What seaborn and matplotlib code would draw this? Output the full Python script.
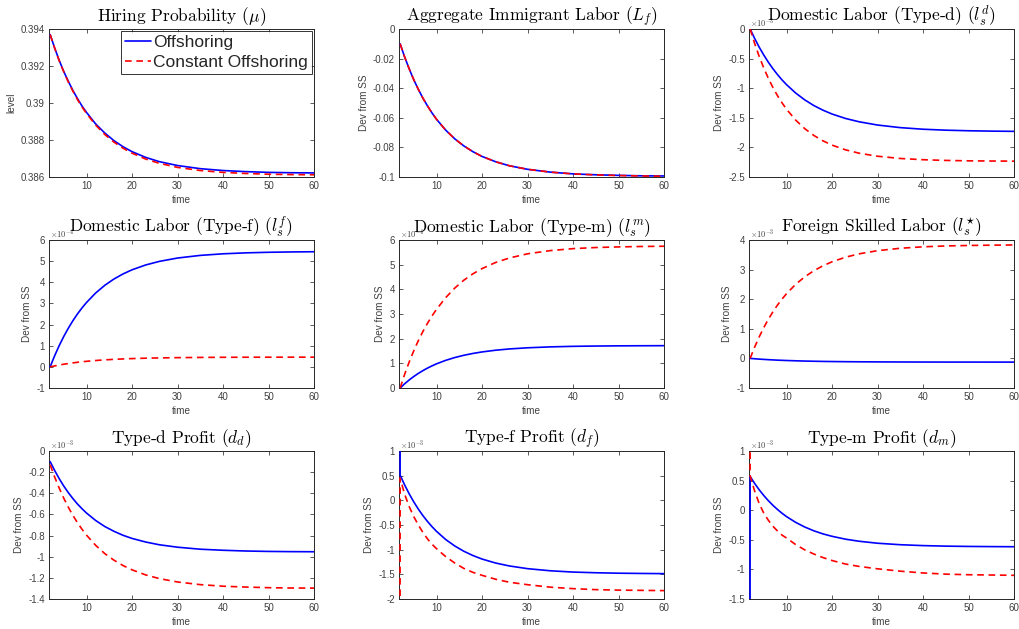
import numpy as np
import pandas as pd
import matplotlib
matplotlib.use("Agg")
import matplotlib.pyplot as plt
import seaborn as sns
from matplotlib.ticker import FuncFormatter

# ---------------- data ----------------
TIME = [2, 3, 4, 5, 6, 7, 8, 9, 10, 12, 14, 16, 18, 20, 23, 26, 30, 35, 40, 45, 50, 55, 60]
XTICKS = [10, 20, 30, 40, 50, 60]
SERIES_NAMES = ["Offshoring", "Constant Offshoring"]

# Hiring probability (level)
MU_OFF = [0.39370, 0.39297, 0.39230, 0.39170, 0.39117, 0.39068, 0.39024, 0.38984, 0.38949, 0.38887,
          0.38838, 0.38797, 0.38764, 0.38737, 0.38706, 0.38683, 0.38662, 0.38645, 0.38635, 0.38629,
          0.38625, 0.38623, 0.38622]
MU_CON = [0.39370, 0.39296, 0.39228, 0.39168, 0.39113, 0.39064, 0.39019, 0.38979, 0.38943, 0.38881,
          0.38830, 0.38789, 0.38756, 0.38729, 0.38697, 0.38674, 0.38652, 0.38635, 0.38625, 0.38619,
          0.38615, 0.38613, 0.38612]
# Aggregate immigrant labor (dev from SS)
LF_OFF = [-0.0100, -0.0190, -0.0270, -0.0343, -0.0408, -0.0467, -0.0519, -0.0567, -0.0610, -0.0683,
          -0.0742, -0.0790, -0.0829, -0.0861, -0.0897, -0.0924, -0.0948, -0.0967, -0.0979, -0.0985,
          -0.0989, -0.0992, -0.0993]
LF_CON = [-0.0100, -0.0190, -0.0270, -0.0343, -0.0408, -0.0467, -0.0519, -0.0567, -0.0610, -0.0683,
          -0.0742, -0.0790, -0.0829, -0.0861, -0.0897, -0.0924, -0.0948, -0.0967, -0.0979, -0.0986,
          -0.0990, -0.0993, -0.0995]
# Domestic labor type-d (x1e-3)
LD_OFF = [0, -0.161, -0.308, -0.440, -0.561, -0.670, -0.769, -0.859, -0.940, -1.081, -1.197, -1.293,
          -1.371, -1.436, -1.512, -1.568, -1.622, -1.666, -1.693, -1.709, -1.719, -1.725, -1.729]
LD_CON = [0, -0.246, -0.465, -0.659, -0.833, -0.987, -1.124, -1.246, -1.355, -1.538, -1.683, -1.798,
          -1.889, -1.961, -2.042, -2.099, -2.149, -2.187, -2.208, -2.220, -2.227, -2.230, -2.232]
# Domestic labor type-f (x1e-4)
LSF_OFF = [0, 0.530, 1.008, 1.440, 1.830, 2.182, 2.500, 2.787, 3.046, 3.492, 3.855, 4.151, 4.393,
           4.590, 4.819, 4.988, 5.147, 5.272, 5.347, 5.392, 5.419, 5.435, 5.445]
LSF_CON = [0, 0.046, 0.087, 0.125, 0.158, 0.188, 0.216, 0.240, 0.262, 0.300, 0.330, 0.355, 0.375,
           0.391, 0.410, 0.423, 0.436, 0.446, 0.452, 0.455, 0.457, 0.458, 0.459]
# Domestic labor type-m (x1e-4)
LSM_OFF = [0, 0.172, 0.327, 0.466, 0.592, 0.704, 0.806, 0.897, 0.980, 1.120, 1.234, 1.326, 1.401,
           1.462, 1.532, 1.583, 1.630, 1.667, 1.689, 1.701, 1.709, 1.713, 1.716]
LSM_CON = [0, 0.560, 1.060, 1.510, 1.920, 2.290, 2.620, 2.920, 3.190, 3.660, 4.050, 4.370, 4.630,
           4.840, 5.090, 5.270, 5.440, 5.570, 5.650, 5.695, 5.720, 5.737, 5.747]
# Foreign skilled labor (x1e-3)
LST_OFF = [0, -0.0125, -0.024, -0.034, -0.043, -0.051, -0.059, -0.065, -0.071, -0.081, -0.090, -0.096,
           -0.102, -0.106, -0.111, -0.115, -0.118, -0.121, -0.123, -0.124, -0.124, -0.125, -0.125]
LST_CON = [0, 0.384, 0.730, 1.041, 1.321, 1.572, 1.799, 2.003, 2.187, 2.501, 2.756, 2.961, 3.128,
           3.264, 3.420, 3.534, 3.639, 3.721, 3.770, 3.799, 3.815, 3.825, 3.832]
# Type-d profit (x1e-3)
DD_OFF = [-0.100, -0.185, -0.262, -0.332, -0.394, -0.450, -0.501, -0.546, -0.587, -0.657, -0.714,
          -0.759, -0.797, -0.827, -0.861, -0.887, -0.910, -0.929, -0.939, -0.946, -0.950, -0.952, -0.953]
DD_CON = [-0.130, -0.247, -0.352, -0.447, -0.532, -0.609, -0.678, -0.740, -0.796, -0.892, -0.970,
          -1.032, -1.083, -1.124, -1.172, -1.207, -1.239, -1.264, -1.279, -1.287, -1.293, -1.296, -1.297]
# Type-f profit (x1e-3), with the off-chart value of the period before
PRE_TIME = 1
DF_OFF_PRE, DF_CON_PRE = 100.0, -150.0
DF_OFF = [0.510, 0.310, 0.130, -0.032, -0.178, -0.309, -0.427, -0.533, -0.629, -0.793, -0.925,
          -1.032, -1.119, -1.190, -1.271, -1.330, -1.385, -1.428, -1.454, -1.468, -1.477, -1.482, -1.486]
DF_CON = [0.45, 0.12, -0.13, -0.33, -0.50, -0.65, -0.78, -0.89, -0.98, -1.14, -1.27, -1.38, -1.46,
          -1.52, -1.60, -1.66, -1.71, -1.76, -1.79, -1.81, -1.82, -1.825, -1.83]
# Type-m profit (x1e-3)
DM_OFF_PRE, DM_CON_PRE = -150.0, 100.0
DM_OFF = [0.570, 0.451, 0.344, 0.248, 0.161, 0.083, 0.013, -0.051, -0.108, -0.205, -0.284, -0.348,
          -0.400, -0.441, -0.490, -0.525, -0.558, -0.583, -0.598, -0.607, -0.612, -0.615, -0.617]
DM_CON = [0.58, 0.32, 0.11, -0.05, -0.17, -0.27, -0.35, -0.42, -0.47, -0.58, -0.67, -0.74, -0.80,
          -0.85, -0.91, -0.95, -0.99, -1.03, -1.06, -1.08, -1.09, -1.095, -1.10]

TITLES = [r"Hiring Probability ($\mu$)", r"Aggregate Immigrant Labor ($L_f$)",
          r"Domestic Labor (Type-d) ($l_s^d$)", r"Domestic Labor (Type-f) ($l_s^f$)",
          r"Domestic Labor (Type-m) ($l_s^m$)", r"Foreign Skilled Labor ($l_s^{\star}$)",
          r"Type-d Profit ($d_d$)", r"Type-f Profit ($d_f$)", r"Type-m Profit ($d_m$)"]
YLABELS = ["level"] + ["Dev from SS"] * 8
SCALES = [1, 1, 1e-3, 1e-4, 1e-4, 1e-3, 1e-3, 1e-3, 1e-3]
SCALE_TEXT = [None, None, "-3", "-4", "-4", "-3", "-3", "-3", "-3"]
YTICKS = [[0.386, 0.388, 0.39, 0.392, 0.394],
          [-0.1, -0.08, -0.06, -0.04, -0.02, 0],
          [-2.5, -2, -1.5, -1, -0.5, 0],
          [-1, 0, 1, 2, 3, 4, 5, 6],
          [0, 1, 2, 3, 4, 5, 6],
          [-1, 0, 1, 2, 3, 4],
          [-1.4, -1.2, -1, -0.8, -0.6, -0.4, -0.2, 0],
          [-2, -1.5, -1, -0.5, 0, 0.5, 1],
          [-1.5, -1, -0.5, 0, 0.5, 1]]

# ---------------- styling ----------------
sns.set_theme(style="white")
plt.rcParams["font.family"] = ["Liberation Sans", "DejaVu Sans"]
plt.rcParams["mathtext.fontset"] = "cm"
GREY = "#404040"
BLUE = "#0000ff"
RED = "#ff0000"

fig = plt.figure(figsize=(10.19, 6.29), dpi=100)
FW, FH = 1019, 629
LEFTS = [49, 399, 749]
TOPS = [29, 240, 451]
AW, AH = 265, 148

off_series = [MU_OFF, LF_OFF, LD_OFF, LSF_OFF, LSM_OFF, LST_OFF, DD_OFF,
              [DF_OFF_PRE] + DF_OFF, [DM_OFF_PRE] + DM_OFF]
con_series = [MU_CON, LF_CON, LD_CON, LSF_CON, LSM_CON, LST_CON, DD_CON,
              [DF_CON_PRE] + DF_CON, [DM_CON_PRE] + DM_CON]

for i in range(9):
    r, c = divmod(i, 3)
    ax = fig.add_axes([LEFTS[c] / FW, 1 - (TOPS[r] + AH) / FH, AW / FW, AH / FH])
    scale = SCALES[i]
    off = np.array(off_series[i], dtype=float)
    con = np.array(con_series[i], dtype=float)
    t = np.array(TIME if len(off) == len(TIME) else [PRE_TIME] + TIME, dtype=float)
    df = pd.DataFrame({"time": np.concatenate([t, t]),
                       "value": np.concatenate([off, con]) * scale,
                       "series": [SERIES_NAMES[0]] * len(t) + [SERIES_NAMES[1]] * len(t)})
    sns.lineplot(data=df, x="time", y="value", hue="series", style="series",
                 palette={SERIES_NAMES[0]: BLUE, SERIES_NAMES[1]: RED},
                 dashes={SERIES_NAMES[0]: "", SERIES_NAMES[1]: (4, 2.8)},
                 linewidth=1.2, ax=ax, legend=(i == 0), sort=True)
    for ln in ax.lines:
        ln.set_zorder(3)
    ax.set_xlim(1.75, 60)
    yt = np.array(YTICKS[i]) * scale
    ax.set_ylim(yt[0], yt[-1])
    ax.set_yticks(yt)
    ax.set_xticks(XTICKS)
    ax.yaxis.set_major_formatter(FuncFormatter(lambda v, p, s=scale: f"{round(v / s, 6) + 0.0:g}"))
    ax.tick_params(direction="in", length=3, width=0.6, colors=GREY, labelsize=7,
                   top=True, right=True, bottom=True, left=True, pad=3)
    for sp in ax.spines.values():
        sp.set_visible(True)
        sp.set_color("#262626")
        sp.set_linewidth(0.7)
        sp.set_zorder(2.5)
    ax.set_xlabel("time", fontsize=7.2, color=GREY, labelpad=2.5)
    ax.set_ylabel(YLABELS[i], fontsize=7.2, color=GREY, labelpad=3)
    ax.set_title(TITLES[i], fontsize=12.5, family=["cmr10", "DejaVu Serif"], pad=6, color="black")
    if SCALE_TEXT[i]:
        ax.text(0.005, 1.0, r"$\times10^{" + SCALE_TEXT[i] + "}$", transform=ax.transAxes,
                fontsize=6, color=GREY, ha="left", va="bottom", zorder=1)
    if i == 0:
        leg = ax.legend(loc="upper right", fontsize=12.5, frameon=True, fancybox=False,
                        edgecolor="black", borderaxespad=0.12, borderpad=0.22,
                        labelspacing=0.3, handlelength=1.5, handletextpad=0.15)
        leg.get_frame().set_linewidth(0.7)
        leg.set_zorder(5)

fig.savefig("out.png", dpi=100)
